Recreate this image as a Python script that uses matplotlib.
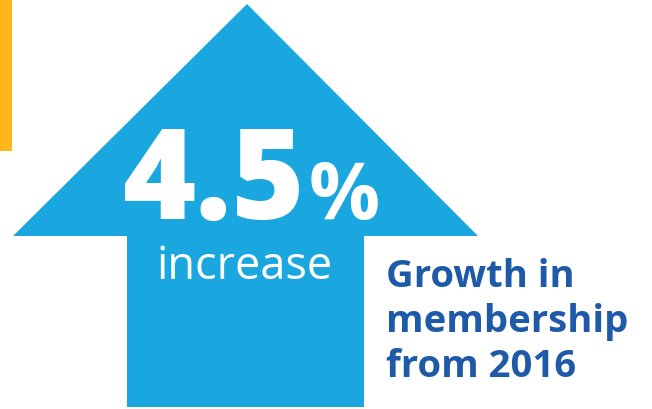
import matplotlib
matplotlib.use("Agg")
from matplotlib import pyplot as plt
from matplotlib.patches import Polygon, Rectangle

# data
growth_value = "4.5"
growth_unit = "%"
growth_word = "increase"
caption_lines = ["Growth in", "membership", "from 2016"]

arrow_blue = "#1AA7E0"
text_blue = "#1F5AA8"
yellow = "#FDB71C"

fig = plt.figure(figsize=(6.52, 4.10), dpi=100)
ax = fig.add_axes([0, 0, 1, 1])
ax.set_xlim(0, 652)
ax.set_ylim(410, 0)
ax.axis("off")

# yellow side bar
ax.add_patch(Rectangle((0, 0), 12, 152, color=yellow, lw=0))

# up arrow
arrow = [(247, 5), (478, 237), (364, 237), (364, 408),
         (127, 408), (127, 237), (13, 237)]
ax.add_patch(Polygon(arrow, closed=True, color=arrow_blue, lw=0))

ax.text(123, 219, growth_value, color="white", fontsize=90,
        fontweight="heavy", family="Open Sans", va="baseline", ha="left")
ax.text(309, 219, growth_unit, color="white", fontsize=57,
        fontweight="bold", family="Open Sans", va="baseline", ha="left")
ax.text(245, 279, growth_word, color="white", fontsize=32.5,
        family="Open Sans", va="baseline", ha="center")

# caption
for i, line in enumerate(caption_lines):
    ax.text(386, 287 + i * 45, line, color=text_blue, fontsize=27.5,
            fontweight="bold", family="Open Sans", va="baseline", ha="left")

fig.savefig("out.png", dpi=100)
